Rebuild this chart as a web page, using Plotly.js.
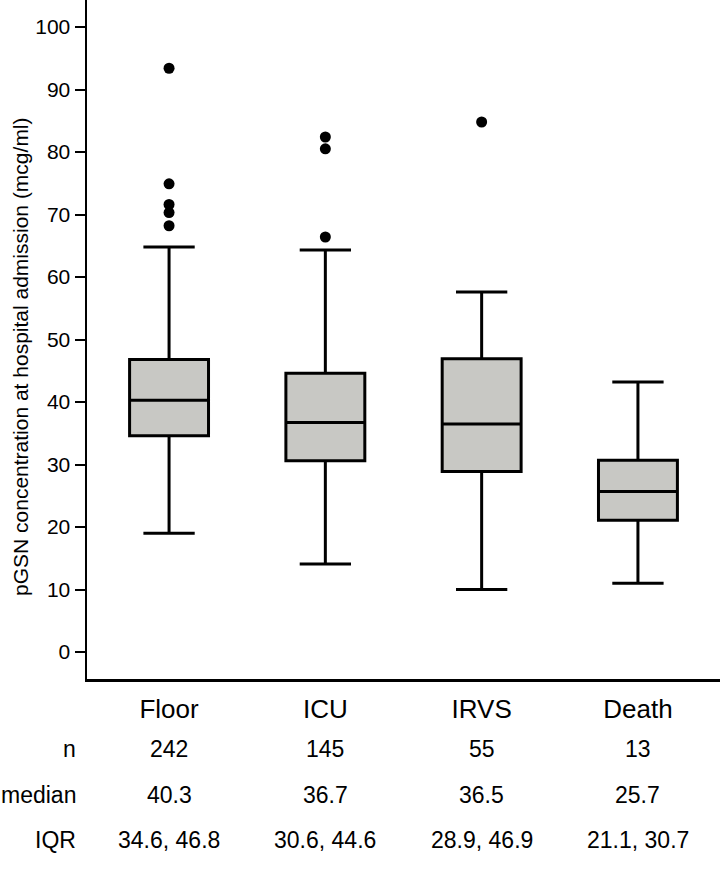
<!DOCTYPE html>
<html>
<head>
<meta charset="utf-8">
<script src="https://cdn.plot.ly/plotly-3.0.1.min.js"></script>
<style>
  html, body { margin: 0; padding: 0; background: #fff; }
  #chart { width: 720px; height: 870px; }
</style>
</head>
<body>
<div id="chart"></div>
<script>
// pGSN at admission by outcome group
const groups = ['Floor', 'ICU', 'IRVS', 'Death'];
const q1 = [34.6, 30.6, 28.9, 21.1];
const medians = [40.3, 36.7, 36.5, 25.7];
const q3 = [46.8, 44.6, 46.9, 30.7];
const lowerWhisker = [19.0, 14.1, 10.0, 11.0];
const upperWhisker = [64.8, 64.3, 57.6, 43.2];

// outliers
const outlierGroup = ['Floor', 'Floor', 'Floor', 'Floor', 'Floor', 'ICU', 'ICU', 'ICU', 'IRVS'];
const outlierValue = [93.4, 74.9, 71.6, 70.3, 68.2, 82.4, 80.5, 66.4, 84.8];

// summary table under the plot
const nCounts = ['242', '145', '55', '13'];
const medianText = ['40.3', '36.7', '36.5', '25.7'];
const iqrText = ['34.6, 46.8', '30.6, 44.6', '28.9, 46.9', '21.1, 30.7'];
const rowLabels = ['n', 'median', 'IQR'];

const FONT = 'Arial, "Liberation Sans", sans-serif';
const plotH = 679;

const rows = [nCounts, medianText, iqrText];
const rowY = [-70, -116, -161];  // px below the x axis

const annotations = [];
rows.forEach((vals, r) => {
  annotations.push({
    text: rowLabels[r], xref: 'paper', yref: 'paper',
    x: 0, xshift: -9, y: rowY[r] / plotH,
    xanchor: 'right', yanchor: 'middle', showarrow: false,
    font: { family: FONT, size: 23, color: '#000' },
  });
  vals.forEach((v, i) => {
    annotations.push({
      text: v, xref: 'x', yref: 'paper',
      x: groups[i], y: rowY[r] / plotH,
      xanchor: 'center', yanchor: 'middle', showarrow: false,
      font: { family: FONT, size: 23, color: '#000' },
    });
  });
});

// y axis title, centred a little below the middle like the original
annotations.push({
  text: 'pGSN concentration at hospital admission (mcg/ml)',
  xref: 'paper', yref: 'paper', x: 0, xshift: -67, y: (plotH - 357) / plotH,
  xanchor: 'center', yanchor: 'middle', textangle: -90, showarrow: false,
  font: { family: FONT, size: 21, color: '#000' },
});

Plotly.newPlot('chart', [
  {
    type: 'box',
    x: groups,
    q1: q1,
    median: medians,
    q3: q3,
    lowerfence: lowerWhisker,
    upperfence: upperWhisker,
    boxpoints: false,
    width: 0.505,
    whiskerwidth: 0.65,
    fillcolor: 'rgb(200,200,196)',
    line: { color: '#000', width: 3 },
    hoverinfo: 'skip',
  },
  {
    type: 'scatter',
    mode: 'markers',
    x: outlierGroup,
    y: outlierValue,
    marker: { color: '#000', size: 11 },
    hoverinfo: 'skip',
  },
], {
  width: 720,
  height: 870,
  showlegend: false,
  font: { family: FONT, color: '#000' },
  margin: { l: 87, r: 0, t: 0, b: 191 },
  paper_bgcolor: '#fff',
  plot_bgcolor: '#fff',
  xaxis: {
    type: 'category',
    range: [-0.525, 3.525],
    showline: true,
    linecolor: '#000',
    linewidth: 2.5,
    ticks: '',
    showgrid: false,
    zeroline: false,
    tickfont: { family: FONT, size: 26, color: '#000' },
    ticklabelstandoff: 5,
  },
  yaxis: {
    range: [-4.32, 104.32],
    tickvals: [0, 10, 20, 30, 40, 50, 60, 70, 80, 90, 100],
    showline: true,
    linecolor: '#000',
    linewidth: 2.5,
    ticks: 'outside',
    ticklen: 10,
    tickwidth: 2,
    tickcolor: '#000',
    showgrid: false,
    zeroline: false,
    tickfont: { family: FONT, size: 21, color: '#000' },
  },
  annotations: annotations,
}, { staticPlot: true });
</script>
</body>
</html>
